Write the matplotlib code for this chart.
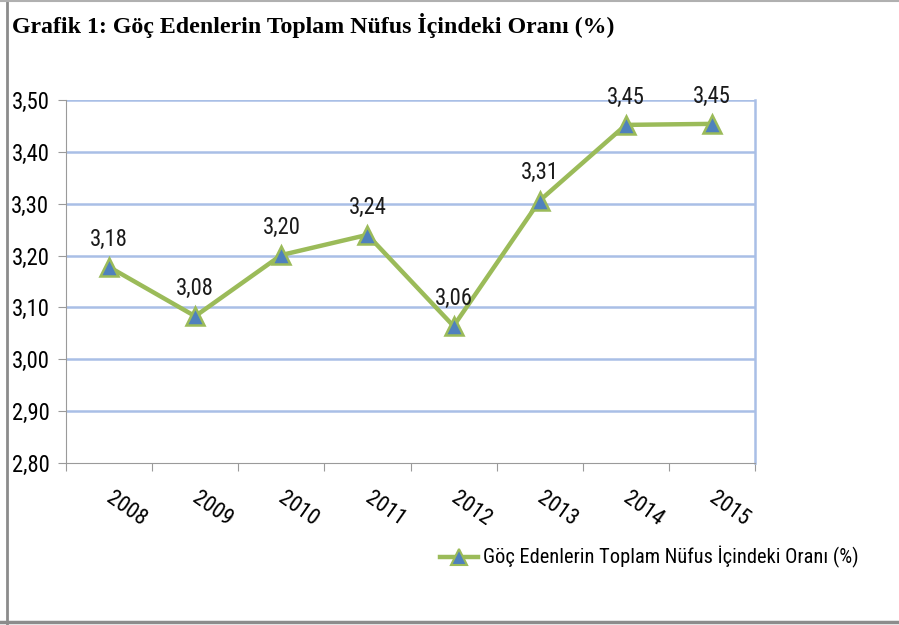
import matplotlib
matplotlib.use('Agg')
import matplotlib.pyplot as plt
from matplotlib.lines import Line2D
from matplotlib import font_manager

years = ['2008', '2009', '2010', '2011', '2012', '2013', '2014', '2015']
values = [3.178, 3.083, 3.201, 3.240, 3.064, 3.306, 3.452, 3.454]
yticks = [2.80, 2.90, 3.00, 3.10, 3.20, 3.30, 3.40, 3.50]
series_name = 'Göç Edenlerin Toplam Nüfus İçindeki Oranı (%)'
title = 'Grafik 1: Göç Edenlerin Toplam Nüfus İçindeki Oranı (%)'

names = {f.name for f in font_manager.fontManager.ttflist}
narrow = 'Lato'
for cand in ['Liberation Sans Narrow', 'DejaVu Sans Condensed', 'Roboto Condensed', 'Lato']:
    if cand in names:
        narrow = cand
        break

W, H = 899, 625
fig = plt.figure(figsize=(W / 100, H / 100), dpi=100)
fig.patch.set_facecolor('white')

# gray outer frame (left, top, bottom)
fig.add_artist(Line2D([7 / W, 7 / W], [0, 1], color='#8c8c8c', lw=2))
fig.add_artist(Line2D([0, 1], [1 - 1 / H, 1 - 1 / H], color='#b0b0b0', lw=1.5))
fig.add_artist(Line2D([0, 1], [3 / H, 3 / H], color='#8c8c8c', lw=2.5))

t = fig.text(12 / W, 1 - 25 / H, title, family='Liberation Serif', weight='bold',
             fontsize=19, va='center', ha='left')

ax = fig.add_axes([66 / W, 1 - 463 / H, (755 - 66) / W, (463 - 100) / H])
x = list(range(len(years)))
ax.set_xlim(-0.5, len(years) - 0.5)
ax.set_ylim(2.80, 3.50)

for y in yticks[1:]:
    ax.axhline(y, color='#a9bfe6', lw=1.8, zorder=1)
ax.spines['top'].set_visible(False)
ax.spines['right'].set_color('#a9bfe6')
ax.spines['right'].set_linewidth(1.8)
ax.spines['left'].set_color('#9a9a9a')
ax.spines['bottom'].set_color('#9a9a9a')

ax.plot(x, values, color='#9bbb59', lw=3.2, marker='^', markersize=13,
        markerfacecolor='#4f81bd', markeredgecolor='#9bbb59', markeredgewidth=1.8,
        zorder=3)

for xi, v in zip(x, values):
    ax.annotate(f'{v:.2f}'.replace('.', ','), (xi, v), xytext=(0, 20),
                textcoords='offset points', ha='center', va='center',
                family=narrow, fontsize=16.3, color='#1a1a1a')

ax.set_yticks(yticks)
ax.set_yticklabels([f'{v:.2f}'.replace('.', ',') for v in yticks],
                   family=narrow, fontsize=16.3)
ax.tick_params(axis='y', length=6, color='#9a9a9a', pad=6)

ax.set_xticks([i - 0.5 for i in range(len(years) + 1)])
ax.set_xticklabels([])
ax.tick_params(axis='x', length=6, color='#9a9a9a')
for xi, yr in zip(x, years):
    ax.text(xi + 0.2, -0.127, yr, transform=ax.get_xaxis_transform(), rotation=-35,
            ha='center', va='center', rotation_mode='anchor',
            family=narrow, fontsize=16)

# legend
ly = 1 - 557 / H
fig.add_artist(Line2D([440 / W, 478 / W], [ly, ly], color='#9bbb59', lw=3.2))
fig.add_artist(Line2D([459 / W], [ly], marker='^', markersize=11,
                      markerfacecolor='#4f81bd', markeredgecolor='#9bbb59',
                      markeredgewidth=1.5))
leg = fig.text(483 / W, ly, series_name, family=narrow, fontsize=14,
               va='center', ha='left')

# squeeze the fonts to the widths seen in the reference
fig.canvas.draw()
r = fig.canvas.get_renderer()
w = leg.get_window_extent(r).width
leg.set_fontsize(14 * 377 / w)
w = t.get_window_extent(r).width
t.set_fontsize(19 * 600 / w)

fig.savefig('out.png', dpi=100)
